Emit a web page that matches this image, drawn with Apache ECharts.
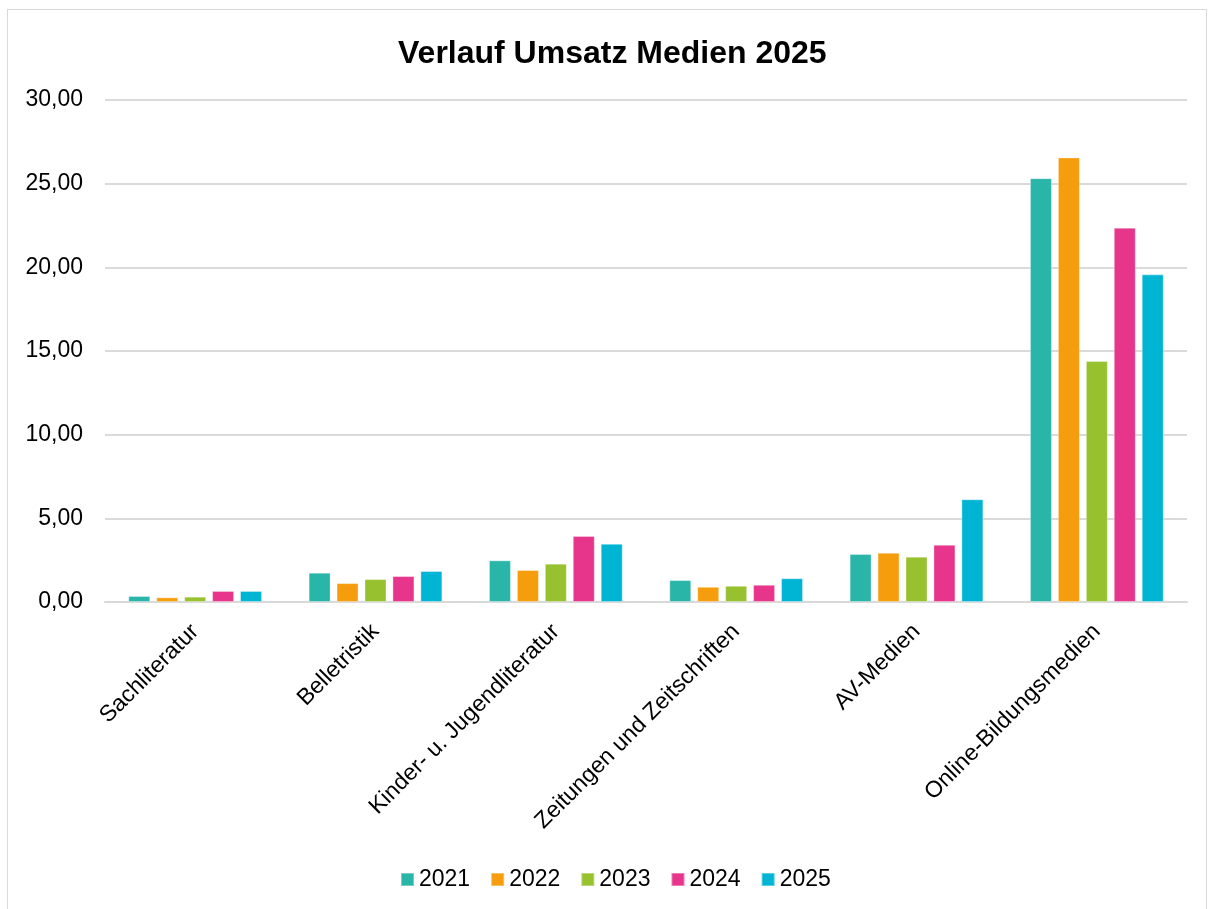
<!DOCTYPE html>
<html>
<head>
<meta charset="utf-8">
<script src="https://cdn.jsdelivr.net/npm/echarts@6/dist/echarts.min.js"></script>
<style>
  html, body { margin: 0; padding: 0; background: #fff; }
  #frame {
    position: absolute; left: 7px; top: 9px; width: 1200px; height: 905px;
    border: 1px solid #d9d9d9; box-sizing: border-box;
  }
  #myChart { position: absolute; left: 0; top: 0; width: 1213px; height: 909px; }
</style>
</head>
<body>
<div id="frame"></div>
<div id="myChart"></div>
<script>
// Kategorien
const categories = ['Sachliteratur', 'Belletristik', 'Kinder- u. Jugendliteratur',
  'Zeitungen und Zeitschriften', 'AV-Medien', 'Online-Bildungsmedien']
// Umsatz je Jahr
const years = ['2021', '2022', '2023', '2024', '2025']
const v2021 = [0.36, 1.75, 2.49, 1.31, 2.87, 25.33]
const v2022 = [0.28, 1.13, 1.91, 0.91, 2.94, 26.57]
const v2023 = [0.32, 1.37, 2.29, 0.97, 2.71, 14.40]
const v2024 = [0.66, 1.55, 3.94, 1.03, 3.42, 22.37]
const v2025 = [0.66, 1.85, 3.48, 1.42, 6.14, 19.58]
const colors = ['#2ab5a9', '#f59d0c', '#97c12f', '#e6358b', '#00b4d4']

const allValues = [v2021, v2022, v2023, v2024, v2025]

const myChart = echarts.init(document.getElementById('myChart'))
const font = 'Liberation Sans, Arial, sans-serif'

const option = {
  animation: false,
  title: {
    text: 'Verlauf Umsatz Medien 2025',
    left: 393,
    top: 33,
    textStyle: { fontFamily: font, fontSize: 32, fontWeight: 'bold', color: '#000' }
  },
  legend: {
    data: years,
    top: 863,
    left: 395,
    icon: 'rect',
    itemWidth: 13,
    itemHeight: 13,
    itemGap: 20,
    textStyle: { fontFamily: font, fontSize: 23, color: '#000' }
  },
  grid: { left: 105, right: 26, top: 100, bottom: 307 },
  xAxis: {
    type: 'category',
    data: categories,
    axisLine: { lineStyle: { color: '#d9d9d9', width: 2 } },
    axisTick: { show: false },
    axisLabel: {
      interval: 0,
      rotate: 45,
      margin: 26,
      fontFamily: font,
      fontSize: 23,
      color: '#000'
    }
  },
  yAxis: {
    type: 'value',
    min: 0,
    max: 30,
    interval: 5,
    axisLine: { show: false },
    axisTick: { show: false },
    splitLine: { lineStyle: { color: '#dadada', width: 2 } },
    axisLabel: {
      margin: 22,
      fontFamily: font,
      fontSize: 23,
      color: '#000',
      formatter: v => v.toFixed(2).replace('.', ',')
    }
  },
  series: years.map((y, i) => ({
    name: y,
    type: 'bar',
    data: allValues[i],
    barWidth: 22,
    barGap: '27%',
    itemStyle: { color: colors[i], borderColor: 'rgba(255,255,255,0.35)', borderWidth: 1 }
  }))
}
myChart.setOption(option)
</script>
</body>
</html>
